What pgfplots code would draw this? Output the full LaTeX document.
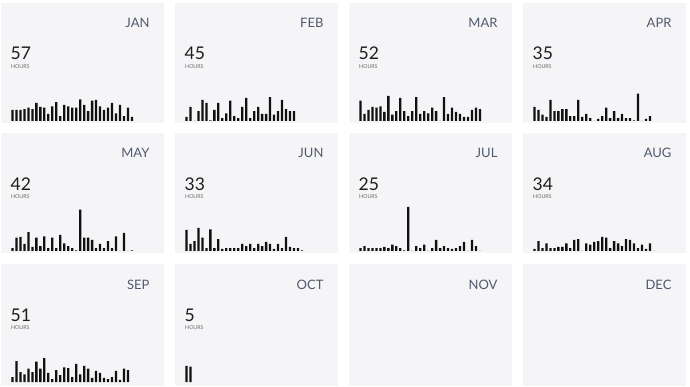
\documentclass[border=0pt]{standalone}
\usepackage{pgfplots}
\pgfplotsset{compat=1.18}
\usepackage{fontspec}
\setmainfont{Lato}
\definecolor{panelbg}{HTML}{F5F5F7}
\definecolor{barc}{HTML}{111111}
\definecolor{monthc}{HTML}{505A6E}
\definecolor{numc}{HTML}{1E1E1E}
\definecolor{hrc}{HTML}{6A6A6A}
\pgfplotsset{
  panel/.style={scale only axis, width=163pt, height=120pt,
    axis lines=none, ticks=none,
    xmin=-1.89, xmax=39.06, ymin=-0.29, ymax=16.86,
    axis background/.style={fill=panelbg, draw=none},
    ybar, bar width=2.3pt, clip=false,
    every axis plot post/.append style={fill=barc, draw=none}},
  lastrow/.style={height=122pt, ymin=-0.57, ymax=16.86}
}
\newcommand{\monthlabel}[1]{\node[anchor=base east, xshift=-11pt, yshift=-25pt, text=monthc, font=\fontsize{13}{13}\selectfont] at (axis description cs:1,1) {#1};}
\newcommand{\hourslabel}[1]{\node[anchor=base west, inner xsep=0pt, xshift=9.5pt, yshift=-57pt, text=numc, font=\fontsize{17.5}{17.5}\selectfont] at (axis description cs:0,1) {#1};
\node[anchor=base west, inner xsep=0pt, xshift=10pt, yshift=-65.5pt, text=hrc, font=\fontsize{5.3}{5.3}\selectfont] at (axis description cs:0,1) {HOURS};}
\begin{document}
\begin{tikzpicture}[x=1pt,y=1pt]
\fill[white] (0,0) rectangle (690,386);
\path[use as bounding box] (0,0) rectangle (690,386);
% Row 1
\begin{axis}[panel, at={(1pt,263pt)}, anchor=south west]
\addplot coordinates {(1,1.6)(2,1.6)(3,1.6)(4,1.7)(5,1.9)(6,1.7)(7,2.6)(8,2.0)(9,1.9)(10,1.0)(11,2.1)(12,2.7)(13,0.7)(14,2.3)(15,2.1)(16,1.9)(17,1.9)(18,3.1)(19,2.3)(20,1.4)(21,2.9)(22,3.0)(23,2.1)(24,1.6)(25,1.9)(26,2.6)(27,1.1)(28,2.3)(29,0.7)(30,1.9)(31,0.6)};
\monthlabel{JAN}\hourslabel{57}
\end{axis}
\begin{axis}[panel, at={(175pt,263pt)}, anchor=south west]
\addplot coordinates {(1,0.6)(2,2.0)(3,0)(4,1.4)(5,3.0)(6,2.6)(7,0.1)(8,1.6)(9,2.6)(10,0.4)(11,1.1)(12,2.9)(13,0.7)(14,0.4)(15,2.0)(16,3.3)(17,0.4)(18,1.4)(19,2.0)(20,1.0)(21,1.0)(22,3.4)(23,0.9)(24,1.4)(25,3.0)(26,1.7)(27,1.4)(28,1.4)};
\monthlabel{FEB}\hourslabel{45}
\end{axis}
\begin{axis}[panel, at={(349pt,263pt)}, anchor=south west]
\addplot coordinates {(1,2.9)(2,1.0)(3,1.6)(4,2.0)(5,1.9)(6,2.1)(7,1.3)(8,3.6)(9,0.9)(10,1.4)(11,3.3)(12,1.4)(13,0.7)(14,1.4)(15,3.4)(16,1.0)(17,1.4)(18,1.1)(19,1.9)(20,1.4)(21,0)(22,3.4)(23,1.0)(24,1.9)(25,1.3)(26,1.0)(27,0.6)(28,0.6)(29,1.6)(30,1.9)(31,1.7)};
\monthlabel{MAR}\hourslabel{52}
\end{axis}
\begin{axis}[panel, at={(523pt,263pt)}, anchor=south west]
\addplot coordinates {(1,2.0)(2,1.6)(3,0.9)(4,0.6)(5,3.0)(6,1.4)(7,1.4)(8,1.7)(9,1.7)(10,0.7)(11,0.7)(12,3.0)(13,0.6)(14,1.0)(15,0.4)(16,0)(17,0.3)(18,0.7)(19,1.9)(20,0.4)(21,1.4)(22,0.4)(23,1.0)(24,0.4)(25,0.4)(26,0.1)(27,3.9)(28,0)(29,0.3)(30,0.7)};
\monthlabel{APR}\hourslabel{35}
\end{axis}
% Row 2
\begin{axis}[panel, at={(1pt,133pt)}, anchor=south west]
\addplot coordinates {(1,0.4)(2,1.9)(3,2.0)(4,1.0)(5,2.7)(6,0.6)(7,1.9)(8,0.7)(9,2.1)(10,0.4)(11,1.9)(12,0.4)(13,2.3)(14,1.1)(15,0.7)(16,0.4)(17,0.1)(18,5.9)(19,1.9)(20,1.9)(21,1.6)(22,0.4)(23,1.0)(24,0.4)(25,1.4)(26,0.4)(27,2.1)(28,0)(29,2.6)(30,0)(31,0.1)};
\monthlabel{MAY}\hourslabel{42}
\end{axis}
\begin{axis}[panel, at={(175pt,133pt)}, anchor=south west]
\addplot coordinates {(1,3.0)(2,1.0)(3,1.4)(4,3.3)(5,1.9)(6,0.4)(7,3.1)(8,0.4)(9,1.7)(10,0.3)(11,0.4)(12,0.4)(13,0.4)(14,0.4)(15,1.0)(16,0.7)(17,1.0)(18,0.4)(19,1.0)(20,0.7)(21,1.3)(22,1.0)(23,0.3)(24,1.0)(25,0.4)(26,2.0)(27,0.6)(28,0.4)(29,0.4)(30,0.1)};
\monthlabel{JUN}\hourslabel{33}
\end{axis}
\begin{axis}[panel, at={(349pt,133pt)}, anchor=south west]
\addplot coordinates {(1,0.4)(2,0.7)(3,0.4)(4,0.4)(5,0.4)(6,0.4)(7,0.6)(8,0.4)(9,0.9)(10,0.7)(11,0.4)(12,0.1)(13,6.3)(14,0)(15,0.7)(16,0.4)(17,0.9)(18,0)(19,0.4)(20,1.6)(21,0.4)(22,0.7)(23,0.4)(24,0.3)(25,0.4)(26,0.7)(27,1.3)(28,0)(29,1.6)(30,0.7)(31,0)};
\monthlabel{JUL}\hourslabel{25}
\end{axis}
\begin{axis}[panel, at={(523pt,133pt)}, anchor=south west]
\addplot coordinates {(1,0.3)(2,1.4)(3,0.4)(4,1.1)(5,0.4)(6,0.4)(7,0.6)(8,0.6)(9,1.1)(10,0.4)(11,1.6)(12,1.7)(13,0)(14,1.1)(15,0.9)(16,1.3)(17,1.4)(18,2.0)(19,1.9)(20,0.4)(21,1.4)(22,1.1)(23,0.7)(24,1.7)(25,1.6)(26,1.1)(27,0.4)(28,0.9)(29,0.3)(30,1.1)(31,0)};
\monthlabel{AUG}\hourslabel{34}
\end{axis}
% Row 3
\begin{axis}[panel, lastrow, at={(1pt,0pt)}, anchor=south west]
\addplot coordinates {(1,0.7)(2,3.0)(3,1.4)(4,1.1)(5,1.9)(6,1.4)(7,2.9)(8,1.9)(9,3.4)(10,1.3)(11,0.4)(12,1.7)(13,1.0)(14,2.1)(15,2.0)(16,0.7)(17,2.6)(18,1.1)(19,2.3)(20,1.9)(21,0.6)(22,1.6)(23,1.3)(24,0.6)(25,0.4)(26,0.7)(27,1.6)(28,0.3)(29,1.9)(30,1.7)};
\monthlabel{SEP}\hourslabel{51}
\end{axis}
\begin{axis}[panel, lastrow, at={(175pt,0pt)}, anchor=south west]
\addplot coordinates {(1,2.3)(2,2.2)};
\monthlabel{OCT}\hourslabel{5}
\end{axis}
\begin{axis}[panel, lastrow, at={(349pt,0pt)}, anchor=south west]
\monthlabel{NOV}
\end{axis}
\begin{axis}[panel, lastrow, at={(523pt,0pt)}, anchor=south west]
\monthlabel{DEC}
\end{axis}
\end{tikzpicture}
\end{document}
